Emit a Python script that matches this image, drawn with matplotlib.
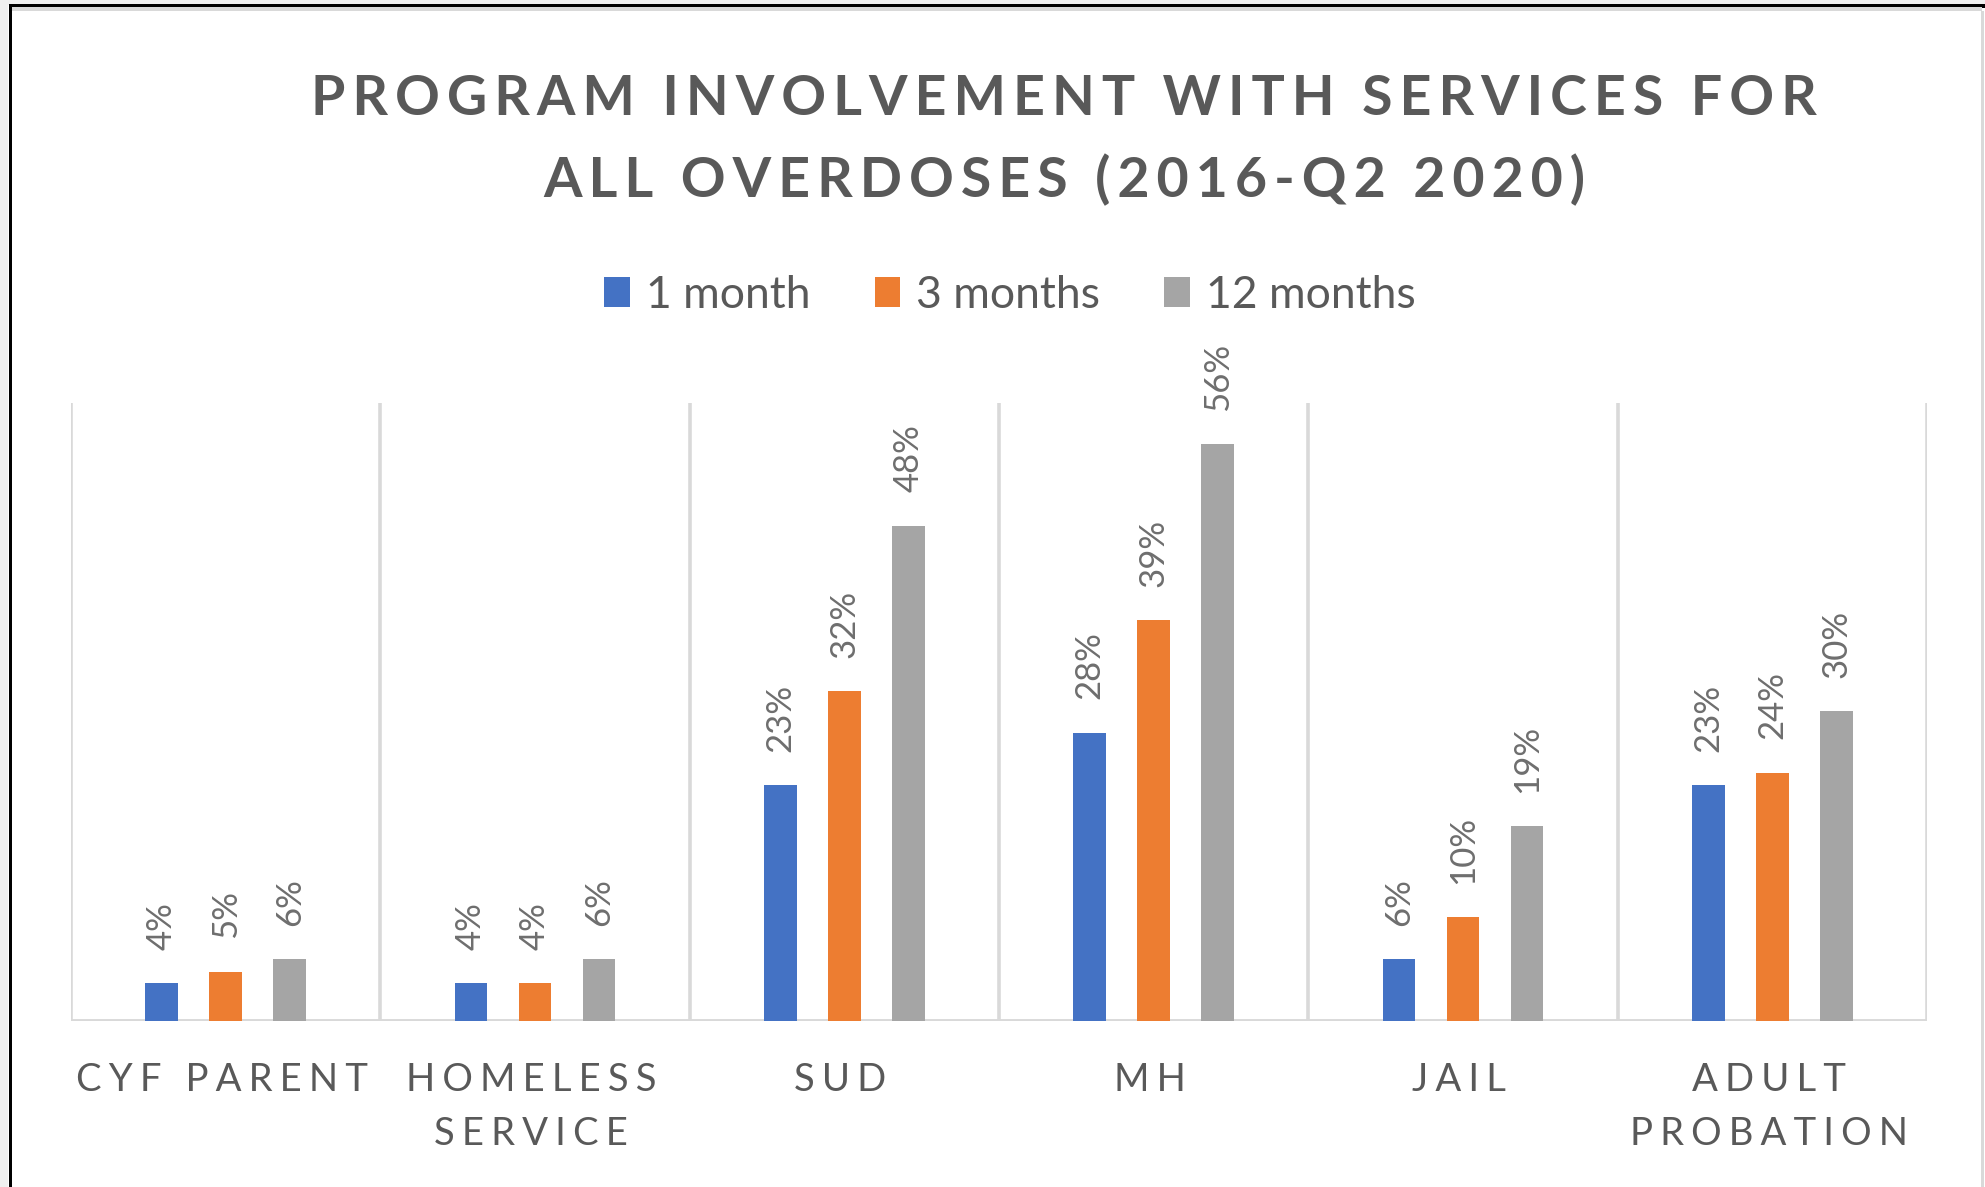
import matplotlib
matplotlib.use("Agg")
import matplotlib.pyplot as plt
from matplotlib.patches import Rectangle
import numpy as np

# ---- data ----
categories = ["CYF PARENT", "HOMELESS\nSERVICE", "SUD", "MH", "JAIL", "ADULT\nPROBATION"]
series_names = ["1 month", "3 months", "12 months"]
one_month = [3.7, 3.7, 22.9, 28.0, 6.0, 22.9]
three_months = [4.8, 3.7, 32.0, 38.9, 10.1, 24.1]
twelve_months = [6.0, 6.0, 48.1, 56.0, 18.9, 30.1]
title_lines = ["PROGRAM INVOLVEMENT WITH SERVICES FOR", "ALL OVERDOSES (2016-Q2 2020)"]

colors = ["#4472C4", "#ED7D31", "#A5A5A5"]
TXT = "#595959"
GRID = "#D9D9D9"
FAM = ["Lato", "DejaVu Sans"]
W, H = 1985, 1187


def spaced(s, sep="\u2009"):
    return "\n".join(sep.join(line) for line in s.split("\n"))


fig = plt.figure(figsize=(W / 100, H / 100), dpi=100)
fig.patch.set_facecolor("white")


def px_rect(x0, y0, x1, y1, color):
    fig.add_artist(Rectangle((x0 / W, 1 - y1 / H), (x1 - x0) / W, (y1 - y0) / H,
                             transform=fig.transFigure, facecolor=color,
                             edgecolor="none", zorder=10))


# outer frame decoration
px_rect(0, 0, 8, H, "#F0F0F0")
px_rect(0, 0, W, 4.5, "#F0F0F0")
px_rect(8.5, 4.5, 11.5, H, "#000000")
px_rect(8.5, 4.5, W, 7.5, "#000000")
px_rect(11.5, 7.5, 1982, 10.5, GRID)
px_rect(1981, 10.5, 1984, H, GRID)

left, right, top, bottom = 71, 1927, 403, 1021
ax = fig.add_axes([left / W, 1 - bottom / H, (right - left) / W, (bottom - top) / H])
ax.set_xlim(-0.5, len(categories) - 0.5)
ax.set_ylim(0, 60)
for s in ax.spines.values():
    s.set_visible(False)
ax.set_xticks([])
ax.set_yticks([])

x = np.arange(len(categories))
offsets = [-0.207, 0.0, 0.207]
bw = 0.106
all_series = [one_month, three_months, twelve_months]
for vals, off, col, name in zip(all_series, offsets, colors, series_names):
    ax.bar(x + off, vals, width=bw, color=col, label=name, zorder=3)
    for xi, v in zip(x + off, vals):
        ax.annotate(f"{round(v):d}%", xy=(xi, v), xytext=(0, 24),
                    textcoords="offset points", rotation=90, ha="center",
                    va="bottom", fontsize=25, color="#6E6E6E", family=FAM,
                    annotation_clip=False)

for b in np.arange(-0.5, len(categories), 1.0):
    ax.axvline(b, color=GRID, lw=2.6, zorder=1)
ax.axhline(0, color=GRID, lw=2.8, zorder=2)

trans = ax.get_xaxis_transform()
for xi, c in zip(x, categories):
    ax.text(xi - 0.012, -(1062 - bottom) / (bottom - top), spaced(c, "\u2009\u200a"),
            transform=trans, ha="center", va="top", fontsize=27.5, color=TXT,
            family=FAM, linespacing=1.63, multialignment="center")

fig.text(1064 / W, 1 - 140 / H, spaced("\n".join(title_lines)), ha="center",
         va="center", fontsize=40, fontweight="bold", color=TXT, family=FAM,
         linespacing=1.70, multialignment="center")

leg = fig.legend(loc="center", bbox_to_anchor=(1010 / W, 1 - 295 / H), ncol=3,
                 frameon=False, fontsize=32, handlelength=0.58, handleheight=0.66,
                 handletextpad=0.35, columnspacing=1.45, borderaxespad=0)
for t in leg.get_texts():
    t.set_color(TXT)
    t.set_family(FAM)

fig.savefig("out.png", dpi=100, facecolor="white")
